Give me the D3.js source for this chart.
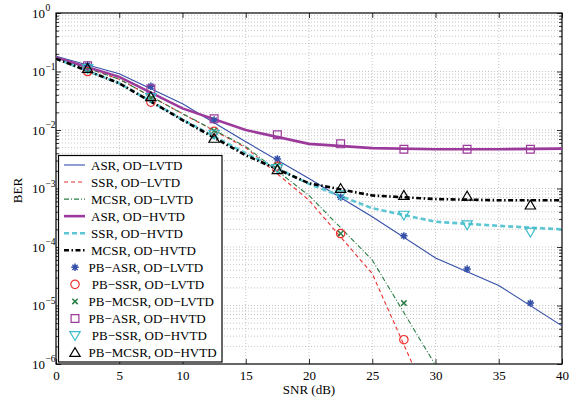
<!DOCTYPE html>
<html>
<head>
<meta charset="utf-8">
<script src="https://cdn.jsdelivr.net/npm/d3@7"></script>
<style>
body { margin: 0; background: #fff; }
svg { display: block; }
text { font-family: "Liberation Serif", "Times New Roman", serif; fill: #000; white-space: pre; }
</style>
</head>
<body>
<svg id="chart" width="573" height="399"></svg>
<script>
// ---------- data ----------
const snrLine = [0, 5, 10, 15, 20, 25, 30, 35, 40];
const snrMarker = [2.5, 7.5, 12.5, 17.5, 22.5, 27.5, 32.5, 37.5];

const asrLVTD  = [0.182, 0.0912, 0.0282, 0.0063, 0.00148, 3.3e-4, 6.5e-5, 2.2e-5, 4.5e-6];
const ssrLVTD  = [0.174, 0.074, 0.019, 0.005, 6.3e-4, 3.5e-5, 1.3e-7];
const mcsrLVTD = [0.174, 0.074, 0.019, 0.0052, 7.6e-4, 6.0e-5, 9.5e-7, 1e-8];
const asrHVTD  = [0.174, 0.081, 0.0234, 0.010, 0.0058, 0.0049, 0.0047, 0.0047, 0.0048];
const ssrHVTD  = [0.166, 0.063, 0.0151, 0.004, 0.0012, 4.6e-4, 2.7e-4, 2.3e-4, 2.0e-4];
const mcsrHVTD = [0.166, 0.063, 0.0148, 0.0037, 0.00123, 7.6e-4, 6.6e-4, 6.3e-4, 6.3e-4];

const pbAsrLVTD  = [0.129, 0.056, 0.0148, 0.0032, 7.1e-4, 1.55e-4, 4.2e-5, 1.1e-5];
const pbSsrLVTD  = [0.10, 0.030, 0.0095, 0.0024, 1.7e-4, 2.6e-6];
const pbMcsrLVTD = [0.105, 0.035, 0.0097, 0.0025, 1.7e-4, 1.1e-5];
const pbAsrHVTD  = [0.126, 0.05, 0.0155, 0.0083, 0.0058, 0.0047, 0.0047, 0.0047];
const pbSsrHVTD  = [0.112, 0.036, 0.0085, 0.0022, 7.8e-4, 3.5e-4, 2.4e-4, 1.8e-4];
const pbMcsrHVTD = [0.113, 0.037, 0.0072, 0.0021, 0.001, 7.6e-4, 7.4e-4, 5.2e-4];

const xTicks = [0, 5, 10, 15, 20, 25, 30, 35, 40];
const yExponents = [0, -1, -2, -3, -4, -5, -6];
const xLabel = "SNR (dB)";
const yLabel = "BER";

// ---------- layout ----------
const svg = d3.select("#chart");
const L = 56, R = 562, T = 13, B = 364;
const x = d3.scaleLinear().domain([0, 40]).range([L, R]);
const y = d3.scaleLog().domain([1e-6, 1]).range([B, T]);

svg.append("defs").append("clipPath").attr("id", "clip")
  .append("rect").attr("x", L).attr("y", T).attr("width", R - L).attr("height", B - T);

// grid
const gridG = svg.append("g").attr("stroke", "#b8b8b8").attr("stroke-width", 0.8)
  .attr("stroke-dasharray", "1,2");
xTicks.slice(1, -1).forEach(v => {
  gridG.append("line").attr("x1", x(v)).attr("x2", x(v)).attr("y1", T).attr("y2", B);
});
const minorVals = [];
for (let e = -6; e < 0; e++) for (let m = 1; m <= 9; m++) minorVals.push(m * Math.pow(10, e));
minorVals.filter(v => v > 1e-6 && v < 1).forEach(v => {
  gridG.append("line").attr("x1", L).attr("x2", R).attr("y1", y(v)).attr("y2", y(v));
});

// axes (MATLAB style: inward ticks, box)
const axG = svg.append("g");
const xAxisB = d3.axisBottom(x).tickValues(xTicks).tickSizeInner(-5).tickSizeOuter(0).tickPadding(7);
const xAxisT = d3.axisTop(x).tickValues(xTicks).tickSizeInner(-5).tickSizeOuter(0).tickFormat("");
const gB = axG.append("g").attr("transform", `translate(0,${B})`).call(xAxisB);
axG.append("g").attr("transform", `translate(0,${T})`).call(xAxisT);
const yMajor = yExponents.map(e => Math.pow(10, e));
const yMinorTicks = minorVals.filter(v => v > 1e-6 && v < 1 && Math.abs(Math.log10(v) % 1) > 1e-9);
axG.append("g").attr("transform", `translate(${L},0)`)
  .call(d3.axisLeft(y).tickValues(yMajor).tickSizeInner(-5).tickSizeOuter(0).tickFormat(""));
axG.append("g").attr("transform", `translate(${R},0)`)
  .call(d3.axisRight(y).tickValues(yMajor).tickSizeInner(-5).tickSizeOuter(0).tickFormat(""));
axG.append("g").attr("transform", `translate(${L},0)`)
  .call(d3.axisLeft(y).tickValues(yMinorTicks).tickSizeInner(-3).tickSizeOuter(0).tickFormat(""));
axG.append("g").attr("transform", `translate(${R},0)`)
  .call(d3.axisRight(y).tickValues(yMinorTicks).tickSizeInner(-3).tickSizeOuter(0).tickFormat(""));
axG.selectAll(".domain").remove();
axG.selectAll("line").attr("stroke", "#000").attr("stroke-width", 0.8);
gB.selectAll("text").attr("font-size", 13).attr("font-family", "Liberation Serif");

// box
svg.append("rect").attr("x", L).attr("y", T).attr("width", R - L).attr("height", B - T)
  .attr("fill", "none").attr("stroke", "#000").attr("stroke-width", 1.2);

// y tick labels 10^e
yExponents.forEach(e => {
  svg.append("text").attr("x", 45).attr("y", y(Math.pow(10, e)) + 4.5)
    .attr("text-anchor", "end").attr("font-size", 13).text("10");
  svg.append("text").attr("x", 45.5).attr("y", y(Math.pow(10, e)) - 2)
    .attr("font-size", 9.5).text(e === 0 ? "0" : "\u2212" + (-e));
});

// axis labels
svg.append("text").attr("x", (L + R) / 2).attr("y", 394).attr("text-anchor", "middle")
  .attr("font-size", 13).text(xLabel);
svg.append("text").attr("transform", `translate(22,${(T + B) / 2 + 2}) rotate(-90)`)
  .attr("text-anchor", "middle").attr("font-size", 13).text(yLabel);

// ---------- series ----------
const lineSeries = [
  { name: "ASR, OD\u2212LVTD",  data: asrLVTD,  color: "#3550a8", width: 1.1, dash: null },
  { name: "SSR, OD\u2212LVTD",  data: ssrLVTD,  color: "#ee3030", width: 1.1, dash: "4,3" },
  { name: "MCSR, OD\u2212LVTD", data: mcsrLVTD, color: "#2a7d45", width: 1.1, dash: "5,2,1,2" },
  { name: "ASR, OD\u2212HVTD",  data: asrHVTD,  color: "#9c3a9c", width: 2.6, dash: null },
  { name: "SSR, OD\u2212HVTD",  data: ssrHVTD,  color: "#5cc6d2", width: 2.6, dash: "5,3" },
  { name: "MCSR, OD\u2212HVTD", data: mcsrHVTD, color: "#000000", width: 2.6, dash: "5,2.5,1.5,2.5" }
];
const markerSeries = [
  { name: "PB\u2212ASR, OD\u2212LVTD",   data: pbAsrLVTD,  color: "#3550a8", shape: "star" },
  { name: " PB\u2212SSR, OD\u2212LVTD",  data: pbSsrLVTD,  color: "#ee3030", shape: "circle" },
  { name: "PB\u2212MCSR, OD\u2212LVTD",  data: pbMcsrLVTD, color: "#2a7d45", shape: "x" },
  { name: "PB\u2212ASR, OD\u2212HVTD",   data: pbAsrHVTD,  color: "#9c3a9c", shape: "square" },
  { name: " PB\u2212SSR, OD\u2212HVTD",  data: pbSsrHVTD,  color: "#3cbcc8", shape: "tdown" },
  { name: "PB\u2212MCSR, OD\u2212HVTD",  data: pbMcsrHVTD, color: "#000000", shape: "tup" }
];

function markerPath(shape) {
  switch (shape) {
    case "star": { const r = 3.7, d = r * 0.7071;
      return `M0,${-r}L0,${r}M${-r},0L${r},0M${-d},${-d}L${d},${d}M${-d},${d}L${d},${-d}`; }
    case "circle": { const r = 4.2;
      return `M${r},0A${r},${r},0,1,1,${-r},0A${r},${r},0,1,1,${r},0Z`; }
    case "x": { const r = 2.7; return `M${-r},${-r}L${r},${r}M${-r},${r}L${r},${-r}`; }
    case "square": { const r = 3.9; return `M${-r},${-r}H${r}V${r}H${-r}Z`; }
    case "tdown": { const r = 5.2; return `M${-r},${-r * 0.75}L${r},${-r * 0.75}L0,${r * 0.95}Z`; }
    case "tup": { const r = 5.2; return `M${-r},${r * 0.75}L${r},${r * 0.75}L0,${-r * 0.95}Z`; }
  }
}

const plotG = svg.append("g").attr("clip-path", "url(#clip)");
const lineGen = d3.line().x(d => x(d[0])).y(d => y(d[1]));
lineSeries.forEach(s => {
  plotG.append("path").datum(s.data.map((v, i) => [snrLine[i], v]))
    .attr("d", lineGen).attr("fill", "none").attr("stroke", s.color)
    .attr("stroke-width", s.width).attr("stroke-dasharray", s.dash);
});
markerSeries.forEach(s => {
  plotG.selectAll(null).data(s.data.map((v, i) => [snrMarker[i], v])).enter()
    .append("path").attr("transform", d => `translate(${x(d[0])},${y(d[1])})`)
    .attr("d", markerPath(s.shape)).attr("fill", "none").attr("stroke", s.color)
    .attr("stroke-width", s.shape === "star" || s.shape === "x" ? 1.5 : 1.2);
});

// ---------- legend ----------
const lg = svg.append("g");
lg.append("rect").attr("x", 58.5).attr("y", 155.5).attr("width", 163.5).attr("height", 206.5)
  .attr("fill", "#fff").attr("stroke", "#000").attr("stroke-width", 1.2);
const rowY = i => 165 + i * 17.05;
lineSeries.forEach((s, i) => {
  lg.append("line").attr("x1", 64).attr("x2", 85).attr("y1", rowY(i)).attr("y2", rowY(i))
    .attr("stroke", s.color).attr("stroke-width", s.width).attr("stroke-dasharray", s.dash);
  lg.append("text").attr("x", 91).attr("y", rowY(i) + 4.5).attr("font-size", 13).text(s.name);
});
markerSeries.forEach((s, j) => {
  const i = j + lineSeries.length;
  lg.append("path").attr("transform", `translate(75,${rowY(i)})`).attr("d", markerPath(s.shape))
    .attr("fill", "none").attr("stroke", s.color)
    .attr("stroke-width", s.shape === "star" || s.shape === "x" ? 1.5 : 1.2);
  lg.append("text").attr("x", 88.5).attr("y", rowY(i) + 4.5).attr("font-size", 13).text(s.name);
});
</script>
</body>
</html>
